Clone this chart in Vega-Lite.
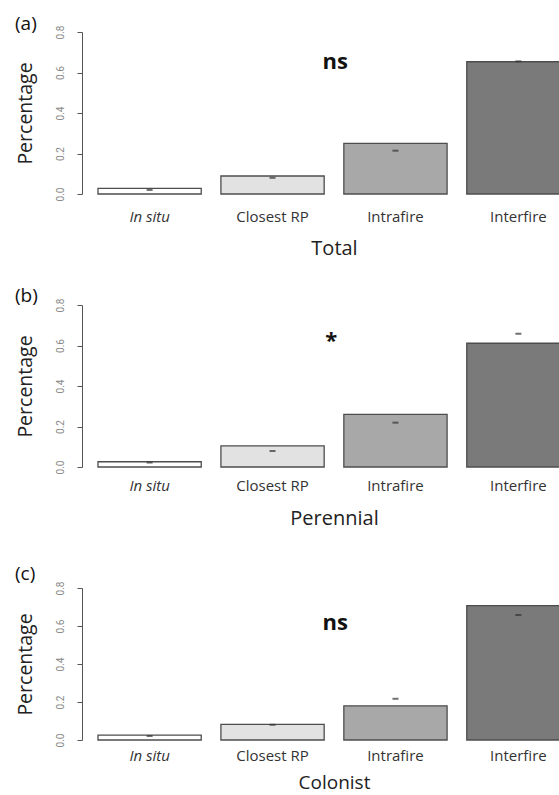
{
  "$schema": "https://vega.github.io/schema/vega-lite/v6.json",
  "background": "white",
  "padding": {"left": 15, "top": 15, "right": 0, "bottom": 0},
  "spacing": 37,
  "datasets": {
    "total": [
      {"habitat": "In situ", "pct": 0.028, "err": 0.02},
      {"habitat": "Closest RP", "pct": 0.089, "err": 0.08},
      {"habitat": "Intrafire", "pct": 0.25, "err": 0.214},
      {"habitat": "Interfire", "pct": 0.653, "err": 0.655}
    ],
    "perennial": [
      {"habitat": "In situ", "pct": 0.026, "err": 0.022},
      {"habitat": "Closest RP", "pct": 0.104, "err": 0.079},
      {"habitat": "Intrafire", "pct": 0.26, "err": 0.219},
      {"habitat": "Interfire", "pct": 0.611, "err": 0.658}
    ],
    "colonist": [
      {"habitat": "In situ", "pct": 0.026, "err": 0.021},
      {"habitat": "Closest RP", "pct": 0.082, "err": 0.08},
      {"habitat": "Intrafire", "pct": 0.18, "err": 0.217},
      {"habitat": "Interfire", "pct": 0.707, "err": 0.658}
    ]
  },
  "config": {
    "view": {"stroke": null},
    "font": "Open Sans",
    "title": {"fontSize": 19, "fontWeight": "normal", "font": "Open Sans", "anchor": "start", "frame": "bounds", "color": "#111"},
    "axisX": {"domain": false, "ticks": false, "labelFontSize": 15, "labelColor": "#333", "labelFont": "Open Sans", "titleFontSize": 20, "titleFontWeight": "normal", "titleColor": "#222", "titleFont": "Open Sans", "labelAngle": 0},
    "axisY": {"grid": false, "domainColor": "#555", "tickColor": "#555", "tickSize": 5, "labelAngle": -90, "labelAlign": "center", "labelBaseline": "bottom", "labelFont": "Roboto", "labelFontSize": 10, "labelColor": "#888", "labelPadding": 12, "titleFontSize": 19.5, "titleFontWeight": "normal", "titleColor": "#222", "titleFont": "Open Sans", "titlePadding": 20, "values": [0, 0.2, 0.4, 0.6, 0.8], "format": ".1f"}
  },
  "vconcat": [
    {
      "spacing": 29,
      "vconcat": [
        {
          "title": {"text": "(a)", "offset": -9},
          "width": 504,
          "height": 162,
          "layer": [
            {
              "data": {"name": "total"},
              "mark": {"type": "bar", "stroke": "#4d4d4d", "strokeWidth": 1.3},
              "encoding": {
                "x": {"field": "habitat", "type": "nominal", "sort": ["In situ", "Closest RP", "Intrafire", "Interfire"], "scale": {"paddingInner": 0.16, "paddingOuter": 0.13}, "axis": {"title": "Total", "labelPadding": 15, "titlePadding": 14, "labelFontStyle": {"condition": {"test": "datum.value == 'In situ'", "value": "italic"}, "value": "normal"}}},
                "y": {"field": "pct", "type": "quantitative", "scale": {"domain": [0, 0.8]}, "axis": {"title": "Percentage"}},
                "fill": {"field": "habitat", "type": "nominal", "scale": {"domain": ["In situ", "Closest RP", "Intrafire", "Interfire"], "range": ["#ffffff", "#e2e2e2", "#a8a8a8", "#7a7a7a"]}, "legend": null}
              }
            },
            {
              "data": {"name": "total"},
              "mark": {"type": "tick", "color": "#333", "size": 6, "thickness": 2},
              "encoding": {
                "x": {"field": "habitat", "type": "nominal", "sort": ["In situ", "Closest RP", "Intrafire", "Interfire"]},
                "y": {"field": "err", "type": "quantitative"}
              }
            },
            {
              "data": {"values": [{"habitat": "Closest RP", "label": "ns", "pos": 0.652}]},
              "mark": {"type": "text", "fontSize": 22, "fontWeight": "bold", "font": "Open Sans", "color": "#111", "baseline": "middle", "dx": 11},
              "encoding": {
                "x": {"field": "habitat", "type": "nominal", "sort": ["In situ", "Closest RP", "Intrafire", "Interfire"], "bandPosition": 1},
                "y": {"field": "pos", "type": "quantitative"},
                "text": {"field": "label"}
              }
            }
          ]
        },
        {
          "title": {"text": "(b)", "offset": -8},
          "width": 504,
          "height": 162,
          "layer": [
            {
              "data": {"name": "perennial"},
              "mark": {"type": "bar", "stroke": "#4d4d4d", "strokeWidth": 1.3},
              "encoding": {
                "x": {"field": "habitat", "type": "nominal", "sort": ["In situ", "Closest RP", "Intrafire", "Interfire"], "scale": {"paddingInner": 0.16, "paddingOuter": 0.13}, "axis": {"title": "Perennial", "labelPadding": 11, "titlePadding": 15, "labelFontStyle": {"condition": {"test": "datum.value == 'In situ'", "value": "italic"}, "value": "normal"}}},
                "y": {"field": "pct", "type": "quantitative", "scale": {"domain": [0, 0.8]}, "axis": {"title": "Percentage"}},
                "fill": {"field": "habitat", "type": "nominal", "scale": {"domain": ["In situ", "Closest RP", "Intrafire", "Interfire"], "range": ["#ffffff", "#e2e2e2", "#a8a8a8", "#7a7a7a"]}, "legend": null}
              }
            },
            {
              "data": {"name": "perennial"},
              "mark": {"type": "tick", "color": "#333", "size": 6, "thickness": 2},
              "encoding": {
                "x": {"field": "habitat", "type": "nominal", "sort": ["In situ", "Closest RP", "Intrafire", "Interfire"]},
                "y": {"field": "err", "type": "quantitative"}
              }
            },
            {
              "data": {"values": [{"habitat": "Closest RP", "label": "*", "pos": 0.62}]},
              "mark": {"type": "text", "fontSize": 22, "fontWeight": "bold", "font": "Open Sans", "color": "#111", "baseline": "middle", "dx": 7},
              "encoding": {
                "x": {"field": "habitat", "type": "nominal", "sort": ["In situ", "Closest RP", "Intrafire", "Interfire"], "bandPosition": 1},
                "y": {"field": "pos", "type": "quantitative"},
                "text": {"field": "label"}
              }
            }
          ]
        }
      ]
    },
    {
      "title": {"text": "(c)", "offset": -3},
      "width": 504,
      "height": 152,
      "layer": [
        {
          "data": {"name": "colonist"},
          "mark": {"type": "bar", "stroke": "#4d4d4d", "strokeWidth": 1.3},
          "encoding": {
            "x": {"field": "habitat", "type": "nominal", "sort": ["In situ", "Closest RP", "Intrafire", "Interfire"], "scale": {"paddingInner": 0.16, "paddingOuter": 0.13}, "axis": {"title": "Colonist", "labelPadding": 8, "titlePadding": 10, "titleFontSize": 19, "labelFontStyle": {"condition": {"test": "datum.value == 'In situ'", "value": "italic"}, "value": "normal"}}},
            "y": {"field": "pct", "type": "quantitative", "scale": {"domain": [0, 0.8]}, "axis": {"title": "Percentage"}},
            "fill": {"field": "habitat", "type": "nominal", "scale": {"domain": ["In situ", "Closest RP", "Intrafire", "Interfire"], "range": ["#ffffff", "#e2e2e2", "#a8a8a8", "#7a7a7a"]}, "legend": null}
          }
        },
        {
          "data": {"name": "colonist"},
          "mark": {"type": "tick", "color": "#333", "size": 6, "thickness": 2},
          "encoding": {
            "x": {"field": "habitat", "type": "nominal", "sort": ["In situ", "Closest RP", "Intrafire", "Interfire"]},
            "y": {"field": "err", "type": "quantitative"}
          }
        },
        {
          "data": {"values": [{"habitat": "Closest RP", "label": "ns", "pos": 0.614}]},
          "mark": {"type": "text", "fontSize": 22, "fontWeight": "bold", "font": "Open Sans", "color": "#111", "baseline": "middle", "dx": 11},
          "encoding": {
            "x": {"field": "habitat", "type": "nominal", "sort": ["In situ", "Closest RP", "Intrafire", "Interfire"], "bandPosition": 1},
            "y": {"field": "pos", "type": "quantitative"},
            "text": {"field": "label"}
          }
        }
      ]
    }
  ]
}
